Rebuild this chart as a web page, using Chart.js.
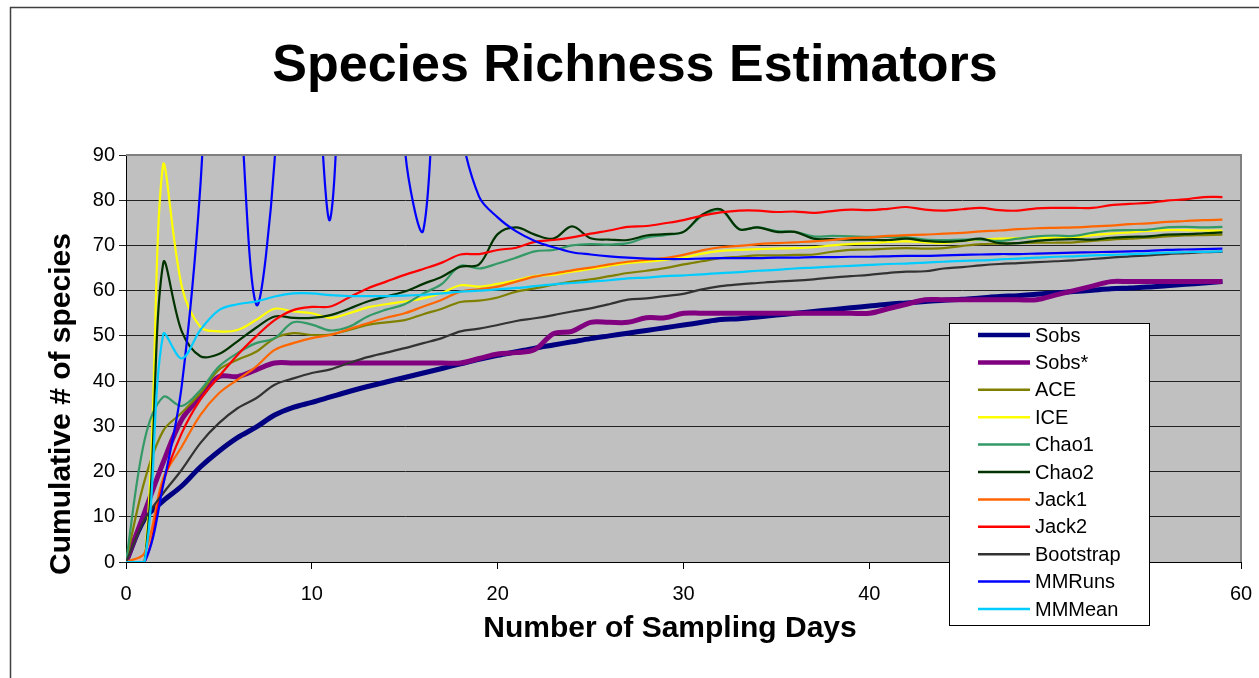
<!DOCTYPE html>
<html>
<head>
<meta charset="utf-8">
<title>Species Richness Estimators</title>
<script src="https://cdn.jsdelivr.net/npm/chart.js@4.4.0/dist/chart.umd.min.js"></script>
<style>
  body { margin: 0; background: #fff; }
  #wrap { position: relative; width: 1259px; height: 678px; }
</style>
</head>
<body>
<div id="wrap"><canvas id="chart" width="1259" height="678"></canvas></div>
<script>
// === Data ===
const days = [0, 1, 2, 3, 4, 5, 6, 7, 8, 9, 10, 11, 12, 13, 14, 15, 16, 17, 18, 19,
  20, 21, 22, 23, 24, 25, 26, 27, 28, 29, 30, 31, 32, 33, 34, 35, 36, 37, 38, 39,
  40, 41, 42, 43, 44, 45, 46, 47, 48, 49, 50, 51, 52, 53, 54, 55, 56, 57, 58, 59];

const sobs = [0, 9.5, 13.5, 16.8, 21, 24.5, 27.5, 29.8, 32.5, 34.2, 35.3,
  36.5, 37.7, 38.8, 39.8, 40.8, 41.8, 42.8, 43.8, 44.8, 45.7, 46.5,
  47.3, 48, 48.7, 49.4, 50, 50.6, 51.2, 51.8, 52.4, 53, 53.6,
  53.8, 54.2, 54.6, 55, 55.4, 55.8, 56.2, 56.6, 57, 57.3, 57.6, 57.9,
  58.1, 58.4, 58.7, 58.9, 59.2, 59.5, 59.8, 60.1, 60.4, 60.6, 60.8, 61.1, 61.4, 61.7, 62];

const sobsStar = [0, 11, 22, 31.5, 36.5, 41, 41, 42.5, 44, 44, 44,
  44, 44, 44, 44, 44, 44, 44, 44, 45, 46, 46.3,
  47, 50.5, 51, 53, 53, 53, 54, 54, 55, 55, 55,
  55, 55, 55, 55, 55, 55, 55, 55, 56, 57, 58, 58,
  58, 58, 58, 58, 58, 59, 60, 61, 62, 62, 62, 62, 62, 62, 62];

const ace = [0, 18, 29, 33, 37.3, 42.5, 44.7, 46.5, 49.5, 50.6, 50.2,
  50.3, 51.3, 52.4, 53, 53.5, 54.8, 56, 57.5, 57.8, 58.5, 59.8,
  60.5, 61.3, 62, 62.5, 63.2, 63.9, 64.4, 65, 65.8, 66.5, 67.2,
  67.5, 67.8, 67.8, 67.9, 68, 68.6, 69, 69.1, 69.3, 69.4, 69.3, 69.4,
  69.9, 70.3, 70.4, 70.5, 70.6, 70.6, 70.7, 71, 71.3, 71.5, 71.7, 72, 72.2, 72.3, 72.4];

const ice = [0, 0, 88, 61, 52, 51, 51.3, 53.5, 56, 55.4, 55,
  54, 55, 56.3, 57, 57.6, 58.3, 59.5, 61.2, 60.9, 61.5, 62.3,
  63.2, 63.5, 64.2, 64.8, 65.5, 66.1, 66.4, 66.8, 67.3, 68.2, 68.8,
  69, 69.2, 69.3, 69.4, 69.6, 70, 70.3, 70.5, 70.8, 70.9, 70.7, 70.5,
  71, 71.3, 71.5, 71.6, 71.7, 71.7, 71.8, 72.3, 72.6, 72.9, 73.2, 73.4, 73.4, 73.3, 73.3];

const chao1 = [0, 27, 36.5, 34.5, 38, 43.2, 46.2, 48.4, 49.5, 53, 52.5,
  51.2, 52, 54.3, 55.8, 57, 59.4, 61.5, 65.5, 64.9, 66, 67.3,
  68.7, 69, 70, 70.3, 70.2, 70.5, 71.8, 72.3, 73, 76.5, 77.8,
  73.6, 74, 73.2, 73, 72, 72.1, 72, 71.9, 71.9, 71.8, 71.3, 71.2,
  71.3, 71.3, 71, 71.5, 72, 72.2, 72.1, 72.8, 73.3, 73.4, 73.5, 74, 74.1, 74, 74.1];

const chao2 = [0, 0, 66, 51, 45.5, 46, 48.8, 51.8, 54.3, 54, 54,
  54.6, 56, 57.6, 58.7, 59.8, 61.5, 63.1, 65.3, 65.8, 72.5, 74,
  72.4, 71.5, 74.2, 71.6, 71.3, 71.2, 72.2, 72.5, 73, 76.8, 78,
  73.6, 74, 73, 73, 71.5, 71.4, 71.3, 71.3, 71.2, 71.5, 71, 70.8,
  71, 71.5, 70.5, 70.5, 71, 71.3, 71.4, 71.3, 71.7, 71.9, 72, 72.4, 72.5, 72.7, 72.9];

const jack1 = [0, 2, 18.5, 25.5, 32.5, 37.3, 40.3, 43.2, 46.9, 48.4, 49.5,
  50.2, 51.5, 52.8, 54, 55, 56.5, 58, 59.8, 60.3, 60.9, 62,
  63.1, 63.8, 64.5, 65.1, 65.8, 66.4, 66.8, 67.2, 67.9, 68.9, 69.6,
  69.9, 70.3, 70.5, 70.7, 70.9, 71.2, 71.6, 71.8, 72.1, 72.3, 72.4, 72.6,
  72.8, 73.1, 73.3, 73.6, 73.8, 73.9, 74, 74.2, 74.4, 74.7, 74.9, 75.2, 75.4, 75.6, 75.7];

const jack2 = [0, 0, 17.5, 28.5, 35.9, 41, 45.8, 49.9, 53.5, 55.7, 56.4,
  56.5, 58.5, 60.5, 62, 63.5, 64.8, 66.2, 68, 68.1, 69, 69.5,
  70.8, 71.2, 71.8, 72.6, 73.3, 74.1, 74.3, 74.9, 75.6, 76.6, 77.3,
  77.7, 77.7, 77.4, 77.5, 77.2, 77.6, 77.9, 77.8, 78.1, 78.5, 77.9, 77.7,
  78, 78.3, 77.8, 77.7, 78.2, 78.3, 78.3, 78.3, 78.9, 79.2, 79.4, 79.9, 80.2, 80.7, 80.7];

const bootstrap = [0, 9.4, 15.2, 20.4, 26.3, 30.7, 34, 36.2, 39.2, 40.6, 41.8,
  42.6, 44, 45.3, 46.3, 47.3, 48.4, 49.5, 51, 51.6, 52.4, 53.3,
  53.9, 54.6, 55.4, 56.1, 57, 58, 58.3, 58.8, 59.3, 60.3, 61,
  61.4, 61.7, 62, 62.2, 62.5, 62.9, 63.2, 63.5, 63.9, 64.2, 64.3, 64.9,
  65.2, 65.6, 65.9, 66.1, 66.3, 66.5, 66.7, 67, 67.3, 67.6, 67.8, 68.1, 68.3, 68.5, 68.6];

// MMRuns goes far above the axis maximum in the first weeks (clipped at 90)
const mmRuns = [0, 0, 17, 39, 83, 160, 112, 57, 89, 180, 130,
  76, 170, 220, 200, 92, 73.4, 130, 96, 80.8, 76.2, 73.1,
  71, 69.6, 68.5, 68, 67.6, 67.3, 67.1, 67, 67, 67.1, 67.2,
  67.2, 67.2, 67.3, 67.3, 67.4, 67.4, 67.5, 67.5, 67.6, 67.7, 67.7, 67.8,
  67.9, 68, 68.1, 68.1, 68.2, 68.3, 68.4, 68.5, 68.6, 68.7, 68.8, 69, 69.1, 69.2, 69.3];

const mmMean = [0, 0, 50.3, 45, 51.3, 55.7, 57, 57.6, 58.7, 59.4, 59.4,
  59, 58.8, 58.8, 58.8, 58.9, 59.1, 59.4, 59.8, 60, 60.3, 60.6,
  61, 61.4, 61.7, 62, 62.3, 62.7, 62.9, 63.2, 63.4, 63.6, 63.9,
  64.1, 64.4, 64.6, 64.9, 65.1, 65.3, 65.5, 65.7, 65.9, 66, 66.2, 66.4,
  66.6, 66.7, 66.9, 67.1, 67.3, 67.5, 67.6, 67.8, 67.9, 68.1, 68.2, 68.4, 68.5, 68.6, 68.7];

const yTicks = [0, 10, 20, 30, 40, 50, 60, 70, 80, 90];
const xTicks = [0, 10, 20, 30, 40, 50, 60];

const FONT = "'Liberation Sans', Arial, Helvetica, sans-serif";

// === Series ===
const series = [
  { label: "Sobs", data: sobs, color: "#000080", width: 5 },
  { label: "Sobs*", data: sobsStar, color: "#800080", width: 5 },
  { label: "ACE", data: ace, color: "#808000", width: 2.2 },
  { label: "ICE", data: ice, color: "#FFFF00", width: 2.2 },
  { label: "Chao1", data: chao1, color: "#339966", width: 2.2 },
  { label: "Chao2", data: chao2, color: "#003300", width: 2.2 },
  { label: "Jack1", data: jack1, color: "#FF6600", width: 2.2 },
  { label: "Jack2", data: jack2, color: "#FF0000", width: 2.2 },
  { label: "Bootstrap", data: bootstrap, color: "#333333", width: 2.2 },
  { label: "MMRuns", data: mmRuns, color: "#0000FF", width: 2.2 },
  { label: "MMMean", data: mmMean, color: "#00CCFF", width: 2.2 }
];

const datasets = series.map((s, i) => ({
  label: s.label,
  data: days.map((d, j) => ({ x: d, y: s.data[j] })),
  borderColor: s.color,
  backgroundColor: s.color,
  borderWidth: s.width,
  pointRadius: 0,
  tension: 0.35,
  fill: false,
  clip: 0,
  order: series.length - i   // later series drawn on top, like Excel
}));

// === Plugins ===
const decor = {
  id: "decor",
  beforeDraw(chart) {
    const c = chart.ctx, a = chart.chartArea;
    c.save();
    c.fillStyle = "#fff";
    c.fillRect(0, 0, chart.width, chart.height);
    c.fillStyle = "#C0C0C0";
    c.fillRect(a.left, a.top, a.right - a.left, a.bottom - a.top);
    // outer chart border (only left and top visible)
    c.strokeStyle = "#404040";
    c.lineWidth = 1.5;
    c.beginPath();
    c.moveTo(10.5, chart.height);
    c.lineTo(10.5, 7.5);
    c.lineTo(chart.width, 7.5);
    c.stroke();
    c.restore();
  },
  afterDraw(chart) {
    const c = chart.ctx, a = chart.chartArea;
    c.save();
    // plot frame top/right
    c.strokeStyle = "#808080";
    c.lineWidth = 2;
    c.beginPath();
    c.moveTo(a.left, a.top);
    c.lineTo(a.right, a.top);
    c.lineTo(a.right, a.bottom);
    c.stroke();

    // titles
    c.fillStyle = "#000";
    c.textAlign = "center";
    c.textBaseline = "middle";
    c.font = "bold 52px " + FONT;
    c.fillText("Species Richness Estimators", 635, 67);
    c.font = "bold 30px " + FONT;
    c.fillText("Number of Sampling Days", 670, 629);
    c.save();
    c.translate(62, 404);
    c.rotate(-Math.PI / 2);
    c.fillText("Cumulative # of species", 0, 0);
    c.restore();

    // legend box
    const lx = 949, ly = 323, lw = 200, lh = 302;
    c.fillStyle = "#fff";
    c.fillRect(lx, ly, lw, lh);
    c.strokeStyle = "#000";
    c.lineWidth = 1;
    c.strokeRect(lx + 0.5, ly + 0.5, lw, lh);
    c.font = "20px " + FONT;
    c.textAlign = "left";
    chart.data.datasets.forEach((ds, i) => {
      const y = 335 + i * 27.4;
      c.strokeStyle = ds.borderColor;
      c.lineWidth = ds.borderWidth > 3 ? 4.5 : 2.5;
      c.beginPath();
      c.moveTo(978, y);
      c.lineTo(1030, y);
      c.stroke();
      c.fillStyle = "#000";
      c.fillText(ds.label, 1035, y + 1);
    });
    c.restore();
  }
};

// === Chart ===
const ctx = document.getElementById("chart").getContext("2d");
const chart = new Chart(ctx, {
  type: "line",
  data: { datasets },
  plugins: [decor],
  options: {
    responsive: false,
    animation: false,
    devicePixelRatio: 1,
    layout: { padding: { top: 155, right: 18, left: 0, bottom: 0 } },
    plugins: { legend: { display: false }, tooltip: { enabled: false }, title: { display: false } },
    scales: {
      x: {
        type: "linear",
        min: 0,
        max: 60,
        afterBuildTicks: (s) => { s.ticks = xTicks.map(v => ({ value: v })); },
        afterFit: (s) => { s.height = 116; s.paddingLeft = 0; s.paddingRight = 0; },
        ticks: { color: "#000", font: { family: FONT, size: 20 }, padding: 13, maxRotation: 0 },
        grid: { drawOnChartArea: false, drawTicks: true, tickLength: 7, color: "#000" },
        border: { color: "#000", width: 1 }
      },
      y: {
        min: 0,
        max: 90,
        afterBuildTicks: (s) => { s.ticks = yTicks.map(v => ({ value: v })); },
        afterFit: (s) => { s.width = 126; s.paddingTop = 0; s.paddingBottom = 0; },
        ticks: { color: "#000", font: { family: FONT, size: 20 }, padding: 4 },
        grid: { color: "#222", lineWidth: 1, tickLength: 7, drawTicks: true },
        border: { color: "#000", width: 1 }
      }
    }
  }
});
</script>
</body>
</html>
